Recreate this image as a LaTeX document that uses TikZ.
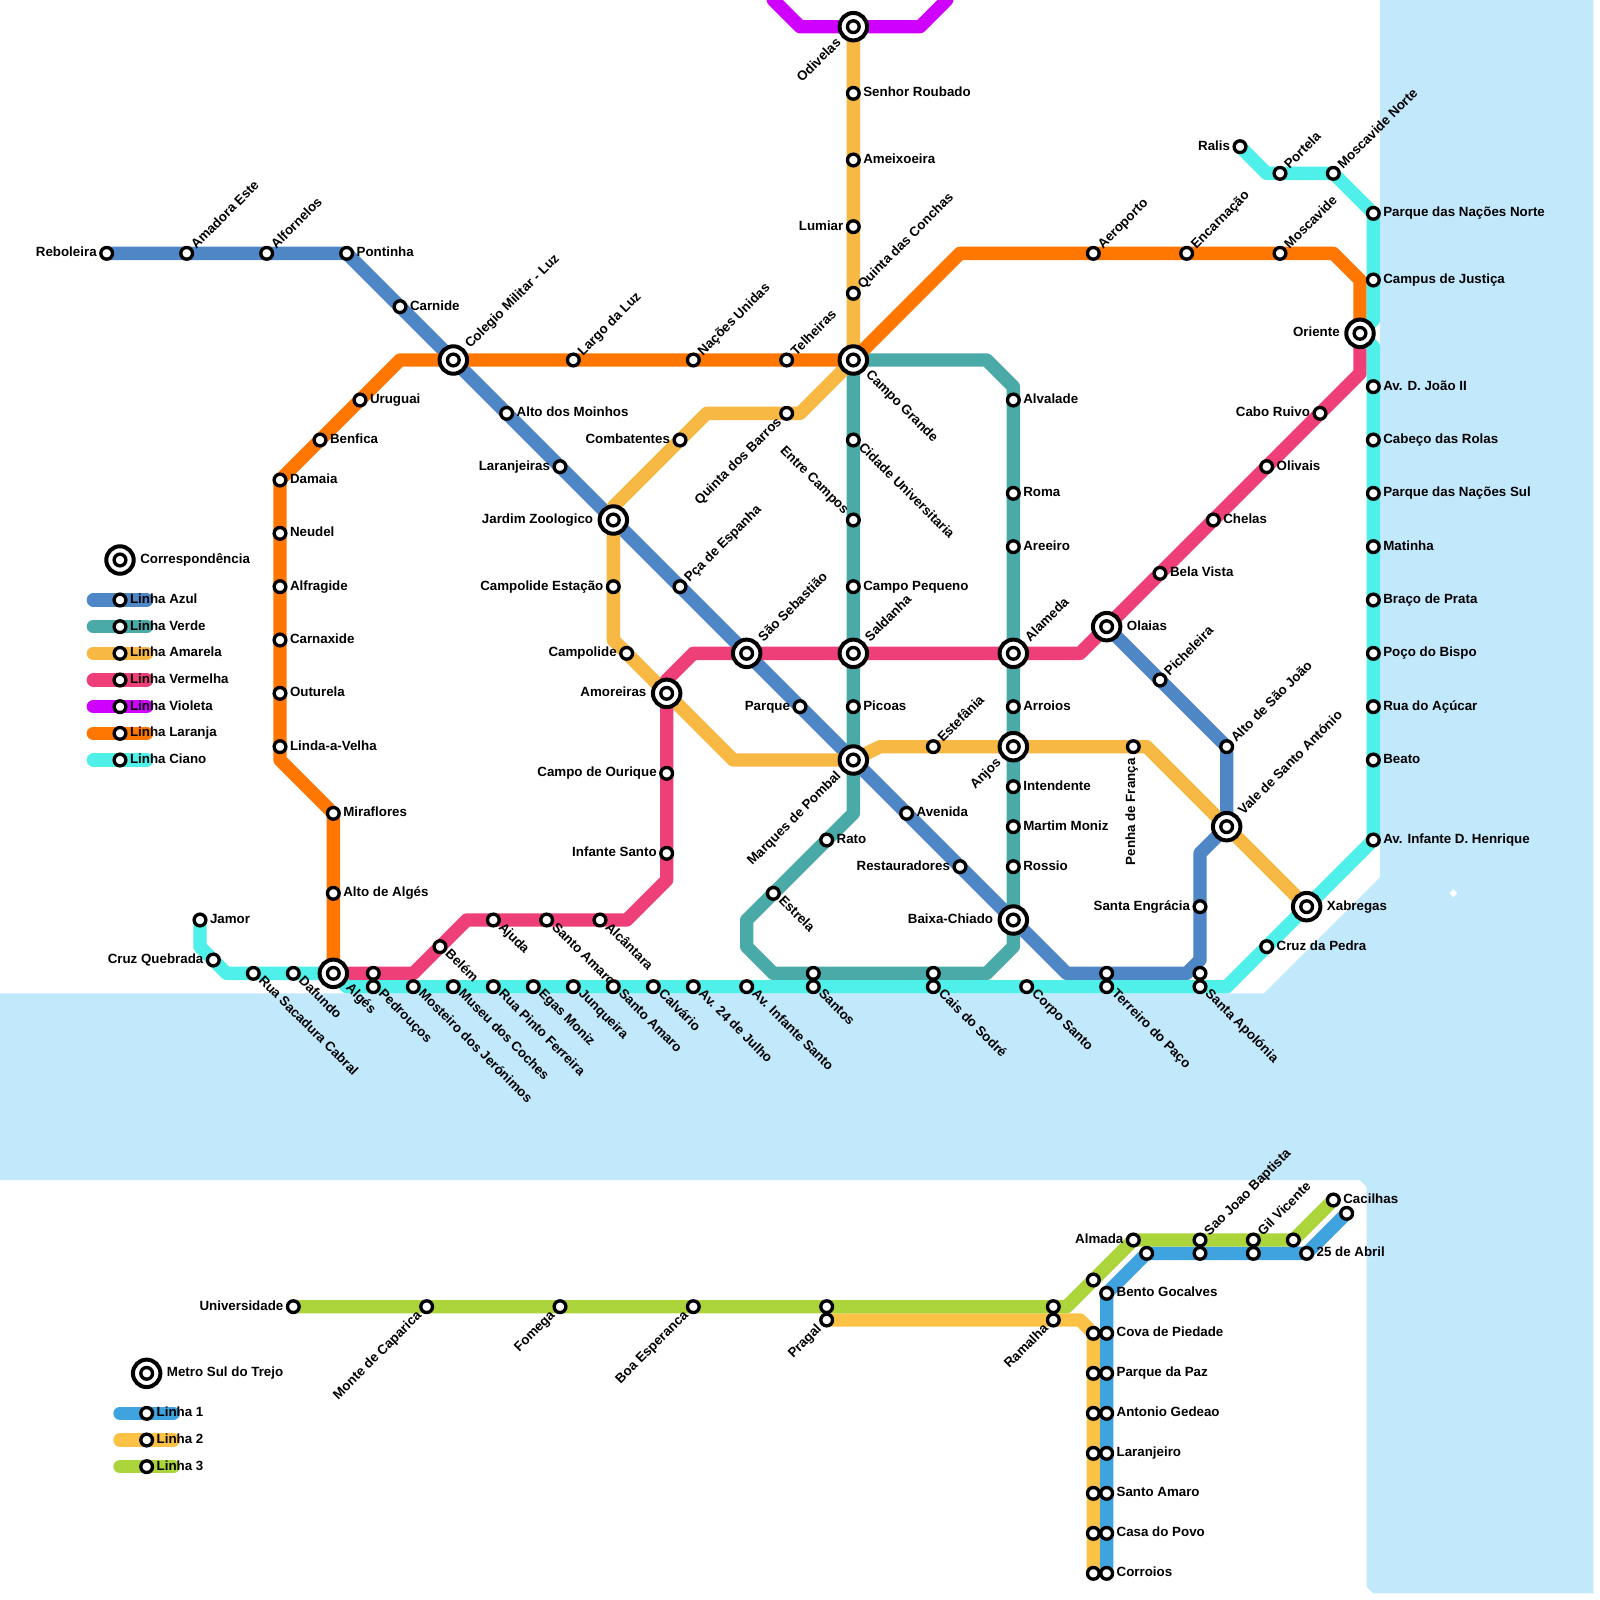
\documentclass[tikz,border=0pt]{standalone}
\usepackage{fontspec}
\setmainfont{Liberation Sans}
\usepackage{tikz}
\definecolor{cazul}{HTML}{4E86C6}
\definecolor{cverde}{HTML}{49AAA8}
\definecolor{camarela}{HTML}{F7B844}
\definecolor{cvermelha}{HTML}{EF3F78}
\definecolor{cvioleta}{HTML}{D000FF}
\definecolor{claranja}{HTML}{FF7700}
\definecolor{cciano}{HTML}{4FF0EA}
\definecolor{csulum}{HTML}{3FA3E0}
\definecolor{csuldois}{HTML}{FBC246}
\definecolor{csultres}{HTML}{ACD53C}
\definecolor{cmar}{HTML}{C2E8FC}
\pgfdeclarelayer{mar}
\pgfdeclarelayer{linhas}
\pgfsetlayers{mar,linhas,main}
\tikzset{
  linha/.style={line width=10pt,line join=round,line cap=round},
  azul/.style={linha,draw=cazul},
  verde/.style={linha,draw=cverde},
  amarela/.style={linha,draw=camarela},
  vermelha/.style={linha,draw=cvermelha},
  violeta/.style={linha,draw=cvioleta},
  laranja/.style={linha,draw=claranja},
  ciano/.style={linha,draw=cciano},
  sulum/.style={linha,draw=csulum},
  suldois/.style={linha,draw=csuldois},
  sultres/.style={linha,draw=csultres},
  stn/.style={circle,draw=black,fill=white,line width=2.5pt,minimum size=8.8pt,inner sep=0pt},
  hub/.style={circle,draw=black,fill=white,line width=3pt,outer sep=3.05pt,minimum size=20.6pt,inner sep=0pt,
    path picture={\draw[line width=2.5pt,fill=white] (path picture bounding box.center) circle (4.4pt);}},
  txt/.style={font=\bfseries\fontsize{10pt}{10pt}\selectfont,inner sep=0pt,text height=7.2pt,text depth=1.8pt},
  dir/.style={label={[txt,anchor=west]0:#1}},
  esq/.style={label={[txt,anchor=east]180:#1}},
  ad/.style={label={[txt,anchor=west,xshift=1.2pt,yshift=-1pt,rotate=45]45:#1}},
  bd/.style={label={[txt,anchor=west,xshift=1.3pt,yshift=1.7pt,rotate=-45]-45:#1}},
  be/.style={label={[txt,anchor=east,xshift=-1.2pt,yshift=0.5pt,rotate=45]225:#1}},
  ae/.style={label={[txt,anchor=east,xshift=-1.3pt,yshift=-0.1pt,rotate=-45]135:#1}},
  ab/.style={label={[txt,anchor=east,xshift=-3pt,yshift=-3pt,rotate=90]270:#1}},
}
\begin{document}
\begin{tikzpicture}[x=10pt,y=-10pt,label distance=1.65pt]
  \begin{pgfonlayer}{mar}
    \fill[white] (0,0) rectangle (120,120);
    \fill[cmar] (103.5,0) -- (119.5,0) -- (119.5,119.5) -- (103,119.5) -- (102.5,119) -- (102.5,89)
      -- (102,88.5) -- (0,88.5) -- (0,74.5) -- (94.8,74.5) -- (103.5,65.8) -- cycle;
    \fill[white] (109,66.7) -- (109.3,67) -- (109,67.3) -- (108.7,67) -- cycle;
  \end{pgfonlayer}
  \path[use as bounding box] (0,0) rectangle (120,120);

  % linha azul
  \node[stn,esq=Reboleira] (reboleira) at (8,19) {};
  \node[stn,ad=Amadora Este] (amadora) at (14,19) {};
  \node[stn,ad=Alfornelos] (alfornelos) at (20,19) {};
  \node[stn,dir=Pontinha] (pontinha) at (26,19) {};
  \node[stn,dir=Carnide] (carnide) at (30,23) {};
  \node[hub,ad=Colegio Militar - Luz] (colegio) at (34,27) {};
  \node[stn,dir=Alto dos Moinhos] (moinhos) at (38,31) {};
  \node[stn,esq=Laranjeiras] (laranjeiras) at (42,35) {};
  \node[hub,esq=Jardim Zoologico] (jardim) at (46,39) {};
  \node[stn,ad=Pça de Espanha] (espanha) at (51,44) {};
  \node[hub,ad=São Sebastião] (sebastiao) at (56,49) {};
  \node[stn,esq=Parque] (parque) at (60,53) {};
  \node[hub,be=Marques de Pombal] (pombal) at (64,57) {};
  \node[stn,dir=Avenida] (avenida) at (68,61) {};
  \node[stn,esq=Restauradores] (restauradores) at (72,65) {};
  \node[hub,esq=Baixa-Chiado] (baixa) at (76,69) {};
  \node[stn] (terreiroa) at (83,73) {};
  \node[stn] (apoloniaa) at (90,73) {};
  \node[stn,esq=Santa Engrácia] (engracia) at (90,68) {};
  \node[hub,ad=Vale de Santo António] (vale) at (92,62) {};
  \node[stn,ad=Alto de São João] (saojoao) at (92,56) {};
  \node[stn,ad=Picheleira] (picheleira) at (87,51) {};
  \node[hub,dir=Olaias] (olaias) at (83,47) {};

  % linha laranja
  \node[hub,bd=Algés] (alges) at (25,73) {};
  \node[stn,dir=Alto de Algés] (altoalges) at (25,67) {};
  \node[stn,dir=Miraflores] (miraflores) at (25,61) {};
  \node[stn,dir=Linda-a-Velha] (linda) at (21,56) {};
  \node[stn,dir=Outurela] (outurela) at (21,52) {};
  \node[stn,dir=Carnaxide] (carnaxide) at (21,48) {};
  \node[stn,dir=Alfragide] (alfragide) at (21,44) {};
  \node[stn,dir=Neudel] (neudel) at (21,40) {};
  \node[stn,dir=Damaia] (damaia) at (21,36) {};
  \node[stn,dir=Benfica] (benfica) at (24,33) {};
  \node[stn,dir=Uruguai] (uruguai) at (27,30) {};
  \node[stn,ad=Largo da Luz] (largo) at (43,27) {};
  \node[stn,ad=Nações Unidas] (nacoes) at (52,27) {};
  \node[stn,ad=Telheiras] (telheiras) at (59,27) {};
  \node[hub,bd=Campo Grande] (campogrande) at (64,27) {};
  \node[stn,ad=Aeroporto] (aeroporto) at (82,19) {};
  \node[stn,ad=Encarnação] (encarnacao) at (89,19) {};
  \node[stn,ad=Moscavide] (moscavide) at (96,19) {};
  \node[hub,esq=Oriente] (oriente) at (102,25) {};

  % linha vermelha
  \node[stn,esq=Cabo Ruivo] (ruivo) at (99,31) {};
  \node[stn,dir=Olivais] (olivais) at (95,35) {};
  \node[stn,dir=Chelas] (chelas) at (91,39) {};
  \node[stn,dir=Bela Vista] (belavista) at (87,43) {};
  \node[hub,ad=Alameda] (alameda) at (76,49) {};
  \node[hub,ad=Saldanha] (saldanha) at (64,49) {};
  \node[hub,esq=Amoreiras] (amoreiras) at (50,52) {};
  \node[stn,esq=Campo de Ourique] (ourique) at (50,58) {};
  \node[stn,esq=Infante Santo] (infante) at (50,64) {};
  \node[stn,bd=Alcântara] (alcantara) at (45,69) {};
  \node[stn,bd=Santo Amaro] (santoamaroa) at (41,69) {};
  \node[stn,bd=Ajuda] (ajuda) at (37,69) {};
  \node[stn,bd=Belém] (belem) at (33,71) {};
  \node[stn] (pedroucosa) at (28,73) {};

  % linha ciano
  \node[stn,esq=Ralis] (ralis) at (93,11) {};
  \node[stn,ad=Portela] (portela) at (96,13) {};
  \node[stn,ad=Moscavide Norte] (moscavidenorte) at (100,13) {};
  \node[stn,dir=Parque das Nações Norte] (nacoesnorte) at (103,16) {};
  \node[stn,dir=Campus de Justiça] (justica) at (103,21) {};
  \node[stn,dir=Av. D. João II] (joaoii) at (103,29) {};
  \node[stn,dir=Cabeço das Rolas] (cabeco) at (103,33) {};
  \node[stn,dir=Parque das Nações Sul] (nacoessul) at (103,37) {};
  \node[stn,dir=Matinha] (matinha) at (103,41) {};
  \node[stn,dir=Braço de Prata] (braco) at (103,45) {};
  \node[stn,dir=Poço do Bispo] (poco) at (103,49) {};
  \node[stn,dir=Rua do Açúcar] (acucar) at (103,53) {};
  \node[stn,dir=Beato] (beato) at (103,57) {};
  \node[stn,dir=Av. Infante D. Henrique] (henrique) at (103,63) {};
  \node[hub,dir=Xabregas] (xabregas) at (98,68) {};
  \node[stn,dir=Cruz da Pedra] (cruzpedra) at (95,71) {};
  \node[stn,bd=Santa Apolónia] (apoloniab) at (90,74) {};
  \node[stn,bd=Terreiro do Paço] (terreirob) at (83,74) {};
  \node[stn,bd=Corpo Santo] (corpo) at (77,74) {};
  \node[stn,bd=Cais do Sodré] (caisb) at (70,74) {};
  \node[stn,bd=Santos] (santosb) at (61,74) {};
  \node[stn,bd=Av. Infante Santo] (avinfante) at (56,74) {};
  \node[stn,bd=Av. 24 de Julho] (julho) at (52,74) {};
  \node[stn,bd=Calvário] (calvario) at (49,74) {};
  \node[stn,bd=Santo Amaro] (santoamarob) at (46,74) {};
  \node[stn,bd=Junqueira] (junqueira) at (43,74) {};
  \node[stn,bd=Egas Moniz] (egas) at (40,74) {};
  \node[stn,bd=Rua Pinto Ferreira] (pinto) at (37,74) {};
  \node[stn,bd=Museu dos Coches] (coches) at (34,74) {};
  \node[stn,bd=Mosteiro dos Jerónimos] (mosteiro) at (31,74) {};
  \node[stn,bd=Pedrouços] (pedroucosb) at (28,74) {};
  \node[stn,bd=Dafundo] (dafundo) at (22,73) {};
  \node[stn,bd=Rua Sacadura Cabral] (sacadura) at (19,73) {};
  \node[stn,esq=Cruz Quebrada] (quebrada) at (16,72) {};
  \node[stn,dir=Jamor] (jamor) at (15,69) {};

  % linha verde
  \node[stn,dir=Alvalade] (alvalade) at (76,30) {};
  \node[stn,dir=Roma] (roma) at (76,37) {};
  \node[stn,dir=Areeiro] (areeiro) at (76,41) {};
  \node[stn,dir=Arroios] (arroios) at (76,53) {};
  \node[hub,be=Anjos] (anjos) at (76,56) {};
  \node[stn,dir=Intendente] (intendente) at (76,59) {};
  \node[stn,dir=Martim Moniz] (martim) at (76,62) {};
  \node[stn,dir=Rossio] (rossio) at (76,65) {};
  \node[stn] (caisa) at (70,73) {};
  \node[stn] (santosa) at (61,73) {};
  \node[stn,bd=Estrela] (estrela) at (58,67) {};
  \node[stn,dir=Rato] (rato) at (62,63) {};
  \node[stn,dir=Picoas] (picoas) at (64,53) {};
  \node[stn,dir=Campo Pequeno] (pequeno) at (64,44) {};
  \node[stn,ae=Entre Campos] (entre) at (64,39) {};
  \node[stn,bd=Cidade Universitaria] (cidade) at (64,33) {};

  % linha amarela
  \node[hub,be=Odivelas] (odivelas) at (64,2) {};
  \node[stn,dir=Senhor Roubado] (senhor) at (64,7) {};
  \node[stn,dir=Ameixoeira] (ameixoeira) at (64,12) {};
  \node[stn,esq=Lumiar] (lumiar) at (64,17) {};
  \node[stn,ad=Quinta das Conchas] (conchas) at (64,22) {};
  \node[stn,be=Quinta dos Barros] (barros) at (59,31) {};
  \node[stn,esq=Combatentes] (combatentes) at (51,33) {};
  \node[stn,esq=Campolide Estação] (estacao) at (46,44) {};
  \node[stn,esq=Campolide] (campolide) at (47,49) {};
  \node[stn,ad=Estefânia] (estefania) at (70,56) {};
  \node[stn,ab=Penha de França] (penha) at (85,56) {};

  % metro sul
  \node[stn,esq=Universidade] (universidade) at (22,98) {};
  \node[stn,be=Monte de Caparica] (caparica) at (32,98) {};
  \node[stn,be=Fomega] (fomega) at (42,98) {};
  \node[stn,be=Boa Esperanca] (esperanca) at (52,98) {};
  \node[stn] (pragala) at (62,98) {};
  \node[stn,be=Pragal] (pragalb) at (62,99) {};
  \node[stn] (ramalhaa) at (79,98) {};
  \node[stn,be=Ramalha] (ramalhab) at (79,99) {};
  \node[stn] (tresa) at (82,96) {};
  \node[stn,esq=Almada] (almada) at (85,93) {};
  \node[stn,ad=Sao Joao Baptista] (baptistaa) at (90,93) {};
  \node[stn,ad=Gil Vicente] (gila) at (94,93) {};
  \node[stn] (tresb) at (97,93) {};
  \node[stn,dir=Cacilhas] (cacilhas) at (100,90) {};
  \node[stn] (uma) at (101,91) {};
  \node[stn,dir=25 de Abril] (abril) at (98,94) {};
  \node[stn] (gilb) at (94,94) {};
  \node[stn] (baptistab) at (90,94) {};
  \node[stn] (umb) at (86,94) {};
  \node[stn,dir=Bento Gocalves] (bento) at (83,97) {};
  \node[stn,dir=Cova de Piedade] (covab) at (83,100) {};
  \node[stn,dir=Parque da Paz] (pazb) at (83,103) {};
  \node[stn,dir=Antonio Gedeao] (gedeaob) at (83,106) {};
  \node[stn,dir=Laranjeiro] (laranjeirob) at (83,109) {};
  \node[stn,dir=Santo Amaro] (santoamaroc) at (83,112) {};
  \node[stn,dir=Casa do Povo] (povob) at (83,115) {};
  \node[stn,dir=Corroios] (corroiosb) at (83,118) {};
  \node[stn] (covaa) at (82,100) {};
  \node[stn] (paza) at (82,103) {};
  \node[stn] (gedeaoa) at (82,106) {};
  \node[stn] (laranjeiroa) at (82,109) {};
  \node[stn] (santoamarod) at (82,112) {};
  \node[stn] (povoa) at (82,115) {};
  \node[stn] (corroiosa) at (82,118) {};

  % legendas
  \node[hub,dir=Correspondência] (corresp) at (9,42) {};
  \node[hub,dir=Metro Sul do Trejo] (metrosul) at (11,103) {};
  \foreach \cor/\nome/\yy in {azul/Azul/45,verde/Verde/47,amarela/Amarela/49,vermelha/Vermelha/51,
      violeta/Violeta/53,laranja/Laranja/55,ciano/Ciano/57} {
    \coordinate (\cor A) at (7,\yy);
    \coordinate (\cor B) at (11,\yy);
    \begin{pgfonlayer}{linhas}
      \draw[\cor] (\cor A) -- (\cor B);
    \end{pgfonlayer}
    \node[stn,dir=Linha \nome] (leg\cor) at (9,\yy) {};
  }
  \foreach \cor/\nome/\yy in {sulum/1/106,suldois/2/108,sultres/3/110} {
    \coordinate (\cor A) at (9,\yy);
    \coordinate (\cor B) at (13,\yy);
    \begin{pgfonlayer}{linhas}
      \draw[\cor] (\cor A) -- (\cor B);
    \end{pgfonlayer}
    \node[stn,dir=Linha \nome] (leg\cor) at (11,\yy) {};
  }

  \begin{pgfonlayer}{linhas}
    \coordinate (a1) at (80,73);
    \coordinate (a2) at (89,73);
    \coordinate (a3) at (90,72);
    \coordinate (a4) at (90,64);
    \draw[azul] (reboleira.center) -- (pontinha.center) -- (baixa.center) -- (a1) -- (a2) -- (a3)
      -- (a4) -- (vale.center) -- (saojoao.center) -- (olaias.center);

    \coordinate (v1) at (74,27);
    \coordinate (v2) at (76,29);
    \coordinate (v3) at (76,71);
    \coordinate (v4) at (74,73);
    \coordinate (v5) at (58,73);
    \coordinate (v6) at (56,71);
    \coordinate (v7) at (56,69);
    \coordinate (v8) at (64,61);
    \draw[verde] (campogrande.center) -- (v1) -- (v2) -- (v3) -- (v4) -- (v5) -- (v6) -- (v7)
      -- (v8) -- cycle;

    \coordinate (m1) at (60,31);
    \coordinate (m2) at (53,31);
    \coordinate (m7) at (46,38);
    \coordinate (m3) at (46,48);
    \coordinate (m4) at (55,57);
    \coordinate (m5) at (66,56);
    \coordinate (m6) at (86,56);
    \draw[amarela] (odivelas.center) -- (campogrande.center) -- (m1) -- (m2) -- (m7)
      -- (m3) -- (m4) -- (pombal.center) -- (m5) -- (m6) -- (xabregas.center);

    \coordinate (r1) at (102,28);
    \coordinate (r2) at (81,49);
    \coordinate (r3) at (52,49);
    \coordinate (r4) at (50,51);
    \coordinate (r5) at (50,66);
    \coordinate (r6) at (47,69);
    \coordinate (r7) at (35,69);
    \coordinate (r8) at (31,73);
    \draw[vermelha] (oriente.center) -- (r1) -- (olaias.center) -- (r2) -- (r3) -- (r4) -- (r5)
      -- (r6) -- (r7) -- (r8) -- (alges.center);

    \coordinate (vi1) at (58,0);
    \coordinate (vi2) at (60,2);
    \coordinate (vi3) at (69,2);
    \coordinate (vi4) at (71,0);
    \draw[violeta] (vi1) -- (vi2) -- (vi3) -- (vi4);

    \coordinate (l1) at (21,57);
    \coordinate (l2) at (30,27);
    \coordinate (l3) at (72,19);
    \coordinate (l4) at (100,19);
    \coordinate (l5) at (102,21);
    \draw[laranja] (alges.center) -- (miraflores.center) -- (l1) -- (damaia.center) -- (l2)
      -- (campogrande.center) -- (l3) -- (l4) -- (l5) -- (oriente.center);

    \coordinate (c1) at (95,13);
    \coordinate (c2) at (103,24);
    \coordinate (c3) at (103,26);
    \coordinate (c4) at (92,74);
    \coordinate (c5) at (26,74);
    \coordinate (c6) at (17,73);
    \coordinate (c7) at (15,71);
    \draw[ciano] (ralis.center) -- (c1) -- (moscavidenorte.center) -- (nacoesnorte.center) -- (c2)
      -- (oriente.center) -- (c3) -- (henrique.center) -- (c4) -- (c5) -- (alges.center)
      -- (c6) -- (c7) -- (jamor.center);

    \coordinate (s1) at (81,99);
    \coordinate (s2) at (82,100);
    \coordinate (s3) at (80,98);
    \draw[suldois] (pragalb.center) -- (s1) -- (s2) -- (corroiosa.center);
    \draw[sulum] (uma.center) -- (abril.center) -- (umb.center) -- (bento.center) -- (corroiosb.center);
    \draw[sultres] (universidade.center) -- (s3) -- (almada.center)
      -- (tresb.center) -- (cacilhas.center);
  \end{pgfonlayer}
\end{tikzpicture}
\end{document}
